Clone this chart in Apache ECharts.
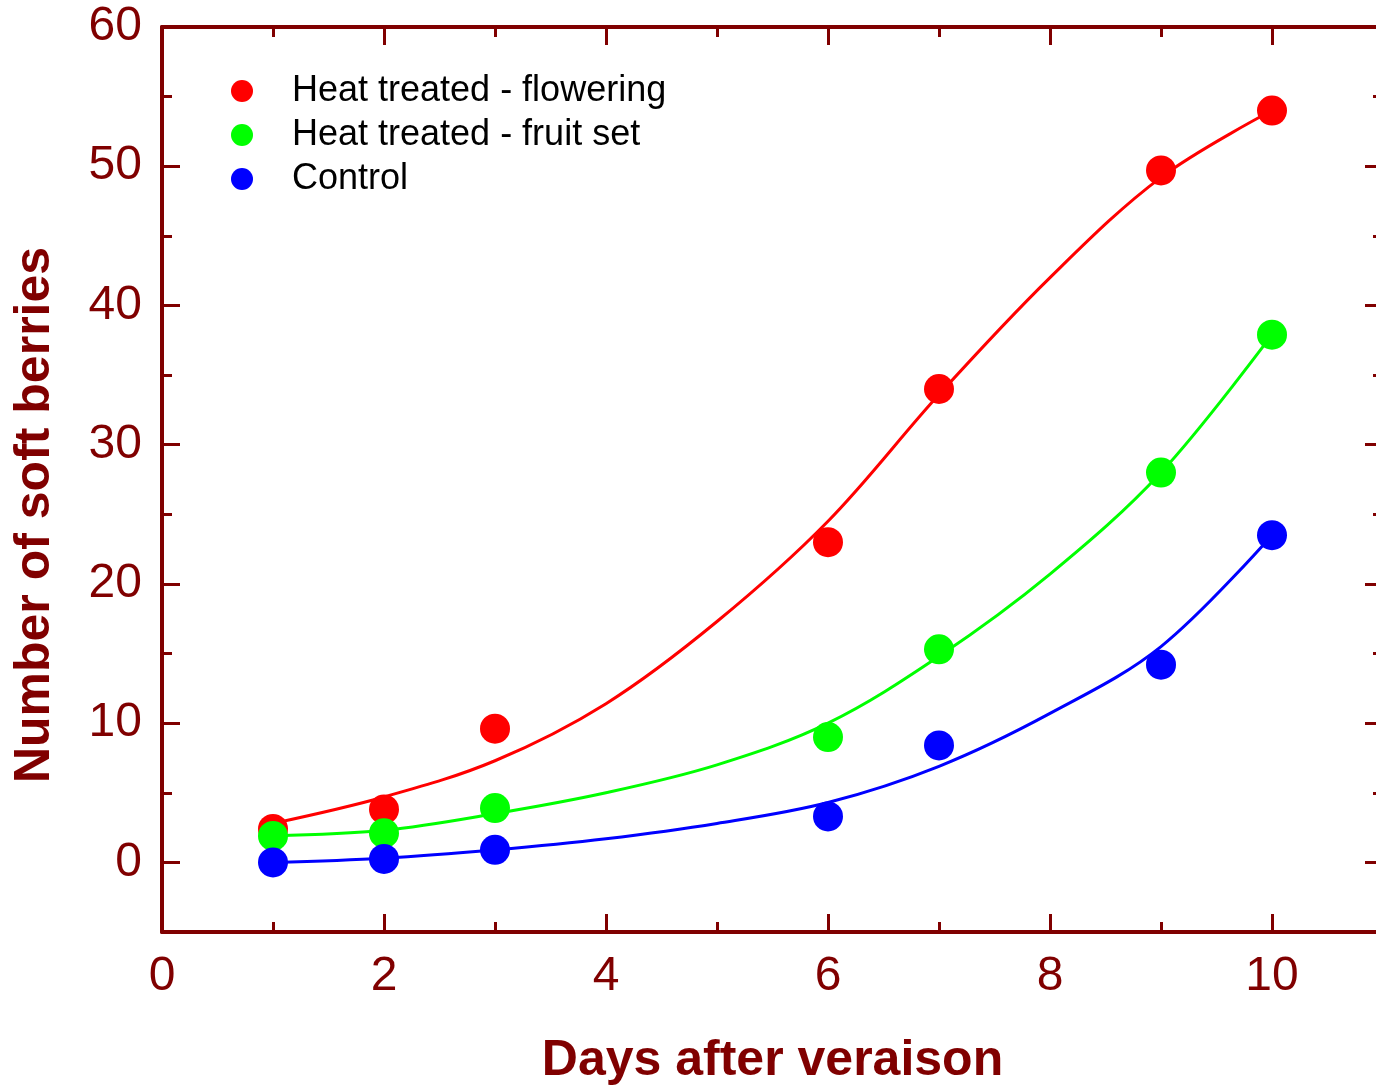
<!DOCTYPE html>
<html>
<head>
<meta charset="utf-8">
<script src="https://cdn.jsdelivr.net/npm/echarts@6/dist/echarts.min.js"></script>
<style>
html,body{margin:0;padding:0;background:#fff;}
#chart{width:1376px;height:1085px;}
</style>
</head>
<body>
<div id="chart"></div>
<script>
// Observed data
const days = [1, 2, 3, 6, 7, 9, 10];
const flowering = [2.4, 3.8, 9.6, 23.0, 34.0, 49.7, 54.0];
const fruitSet = [1.9, 2.1, 3.9, 9.0, 15.3, 28.0, 37.9];
const control = [0.0, 0.25, 0.9, 3.3, 8.4, 14.2, 23.5];

// Fitted curves
const fitDays = [1, 2, 3, 4, 5, 6, 7, 8, 9, 10];
const fitFlowering = [2.8, 4.7, 7.3, 11.4, 17.3, 24.5, 33.6, 42.0, 49.2, 54.0];
const fitFruitSet = [1.9, 2.3, 3.5, 5.0, 7.0, 10.0, 14.8, 20.7, 28.0, 37.9];
const fitControl = [0.0, 0.3, 0.9, 1.7, 2.8, 4.3, 6.9, 10.7, 15.5, 23.5];

// Axis ticks
const xMajor = [0, 2, 4, 6, 8, 10];
const xMinor = [1, 3, 5, 7, 9];
const yMajor = [0, 10, 20, 30, 40, 50, 60];
const yMinor = [-5, 5, 15, 25, 35, 45, 55];

const seriesNames = ['Heat treated - flowering', 'Heat treated - fruit set', 'Control'];
const seriesColors = ['#ff0000', '#00ff00', '#0000ff'];

const AX = '#800000';
const FONT = '"Liberation Sans", Arial, Helvetica, sans-serif';

const pairs = (xs, ys) => xs.map((x, i) => [x, ys[i]]);

function xAxisDef(pos, ticks, len, labels, line) {
  return {
    type: 'value', position: pos, min: 0, max: 11, gridIndex: 0,
    axisLine: { show: line, onZero: false, lineStyle: { color: AX, width: 4 } },
    axisTick: { show: true, inside: true, length: len, customValues: ticks, lineStyle: { color: AX, width: 3 } },
    axisLabel: labels ? { show: true, customValues: ticks, color: AX, fontSize: 48, fontFamily: FONT, margin: 21 } : { show: false },
    splitLine: { show: false }
  };
}
function yAxisDef(pos, ticks, len, labels, line) {
  return {
    type: 'value', position: pos, min: -5, max: 60, gridIndex: 0,
    axisLine: { show: line, onZero: false, lineStyle: { color: AX, width: 4 } },
    axisTick: { show: true, inside: true, length: len, customValues: ticks, lineStyle: { color: AX, width: 3 } },
    axisLabel: labels ? { show: true, customValues: ticks, color: AX, fontSize: 48, fontFamily: FONT, margin: 20 } : { show: false },
    splitLine: { show: false }
  };
}

const xAxes = [
  xAxisDef('bottom', xMajor, 18, true, true),
  xAxisDef('bottom', xMinor, 10, false, false),
  xAxisDef('top', xMajor, 18, false, true),
  xAxisDef('top', xMinor, 10, false, false)
];
xAxes[0].name = 'Days after veraison';
xAxes[0].nameLocation = 'middle';
xAxes[0].nameGap = 104;
xAxes[0].nameTextStyle = { color: AX, fontSize: 50, fontWeight: 'bold', fontFamily: FONT };

const yAxes = [
  yAxisDef('left', yMajor, 18, true, true),
  yAxisDef('left', yMinor, 10, false, false),
  yAxisDef('right', yMajor, 18, false, true),
  yAxisDef('right', yMinor, 10, false, false)
];

const fits = [fitFlowering, fitFruitSet, fitControl];
const obs = [flowering, fruitSet, control];

const series = [];
fits.forEach((f, i) => {
  series.push({
    type: 'line', name: seriesNames[i] + ' fit', data: pairs(fitDays, f),
    smooth: 0.35, showSymbol: false, symbol: 'none',
    lineStyle: { color: seriesColors[i], width: 3 }, z: 2, silent: true
  });
});
obs.forEach((o, i) => {
  series.push({
    type: 'scatter', name: seriesNames[i], data: pairs(days, o),
    symbol: 'circle', symbolSize: 30,
    itemStyle: { color: seriesColors[i], opacity: 1 }, z: 3 + i
  });
});

const chart = echarts.init(document.getElementById('chart'), null, { renderer: 'canvas' });
chart.setOption({
  animation: false,
  backgroundColor: '#ffffff',
  grid: { left: 162, top: 27, width: 1221, height: 905, containLabel: false, outerBoundsMode: 'none' },
  xAxis: xAxes,
  yAxis: yAxes,
  legend: {
    data: seriesNames.map((n, i) => ({ name: n, icon: 'circle', itemStyle: { color: seriesColors[i], opacity: 1 } })),
    orient: 'vertical', left: 226, top: 64,
    itemWidth: 22, itemHeight: 22, itemGap: 0,
    textStyle: { color: '#000', fontSize: 36, fontFamily: FONT, lineHeight: 44, padding: [0, 0, 0, 34] },
    selectedMode: false
  },
  graphic: [{
    type: 'text', x: 35, y: 515, rotation: Math.PI / 2,
    style: {
      text: 'Number of soft berries', fill: AX,
      font: 'bold 50px ' + FONT, textAlign: 'center', textVerticalAlign: 'middle'
    }
  }],
  series: series
});
</script>
</body>
</html>
